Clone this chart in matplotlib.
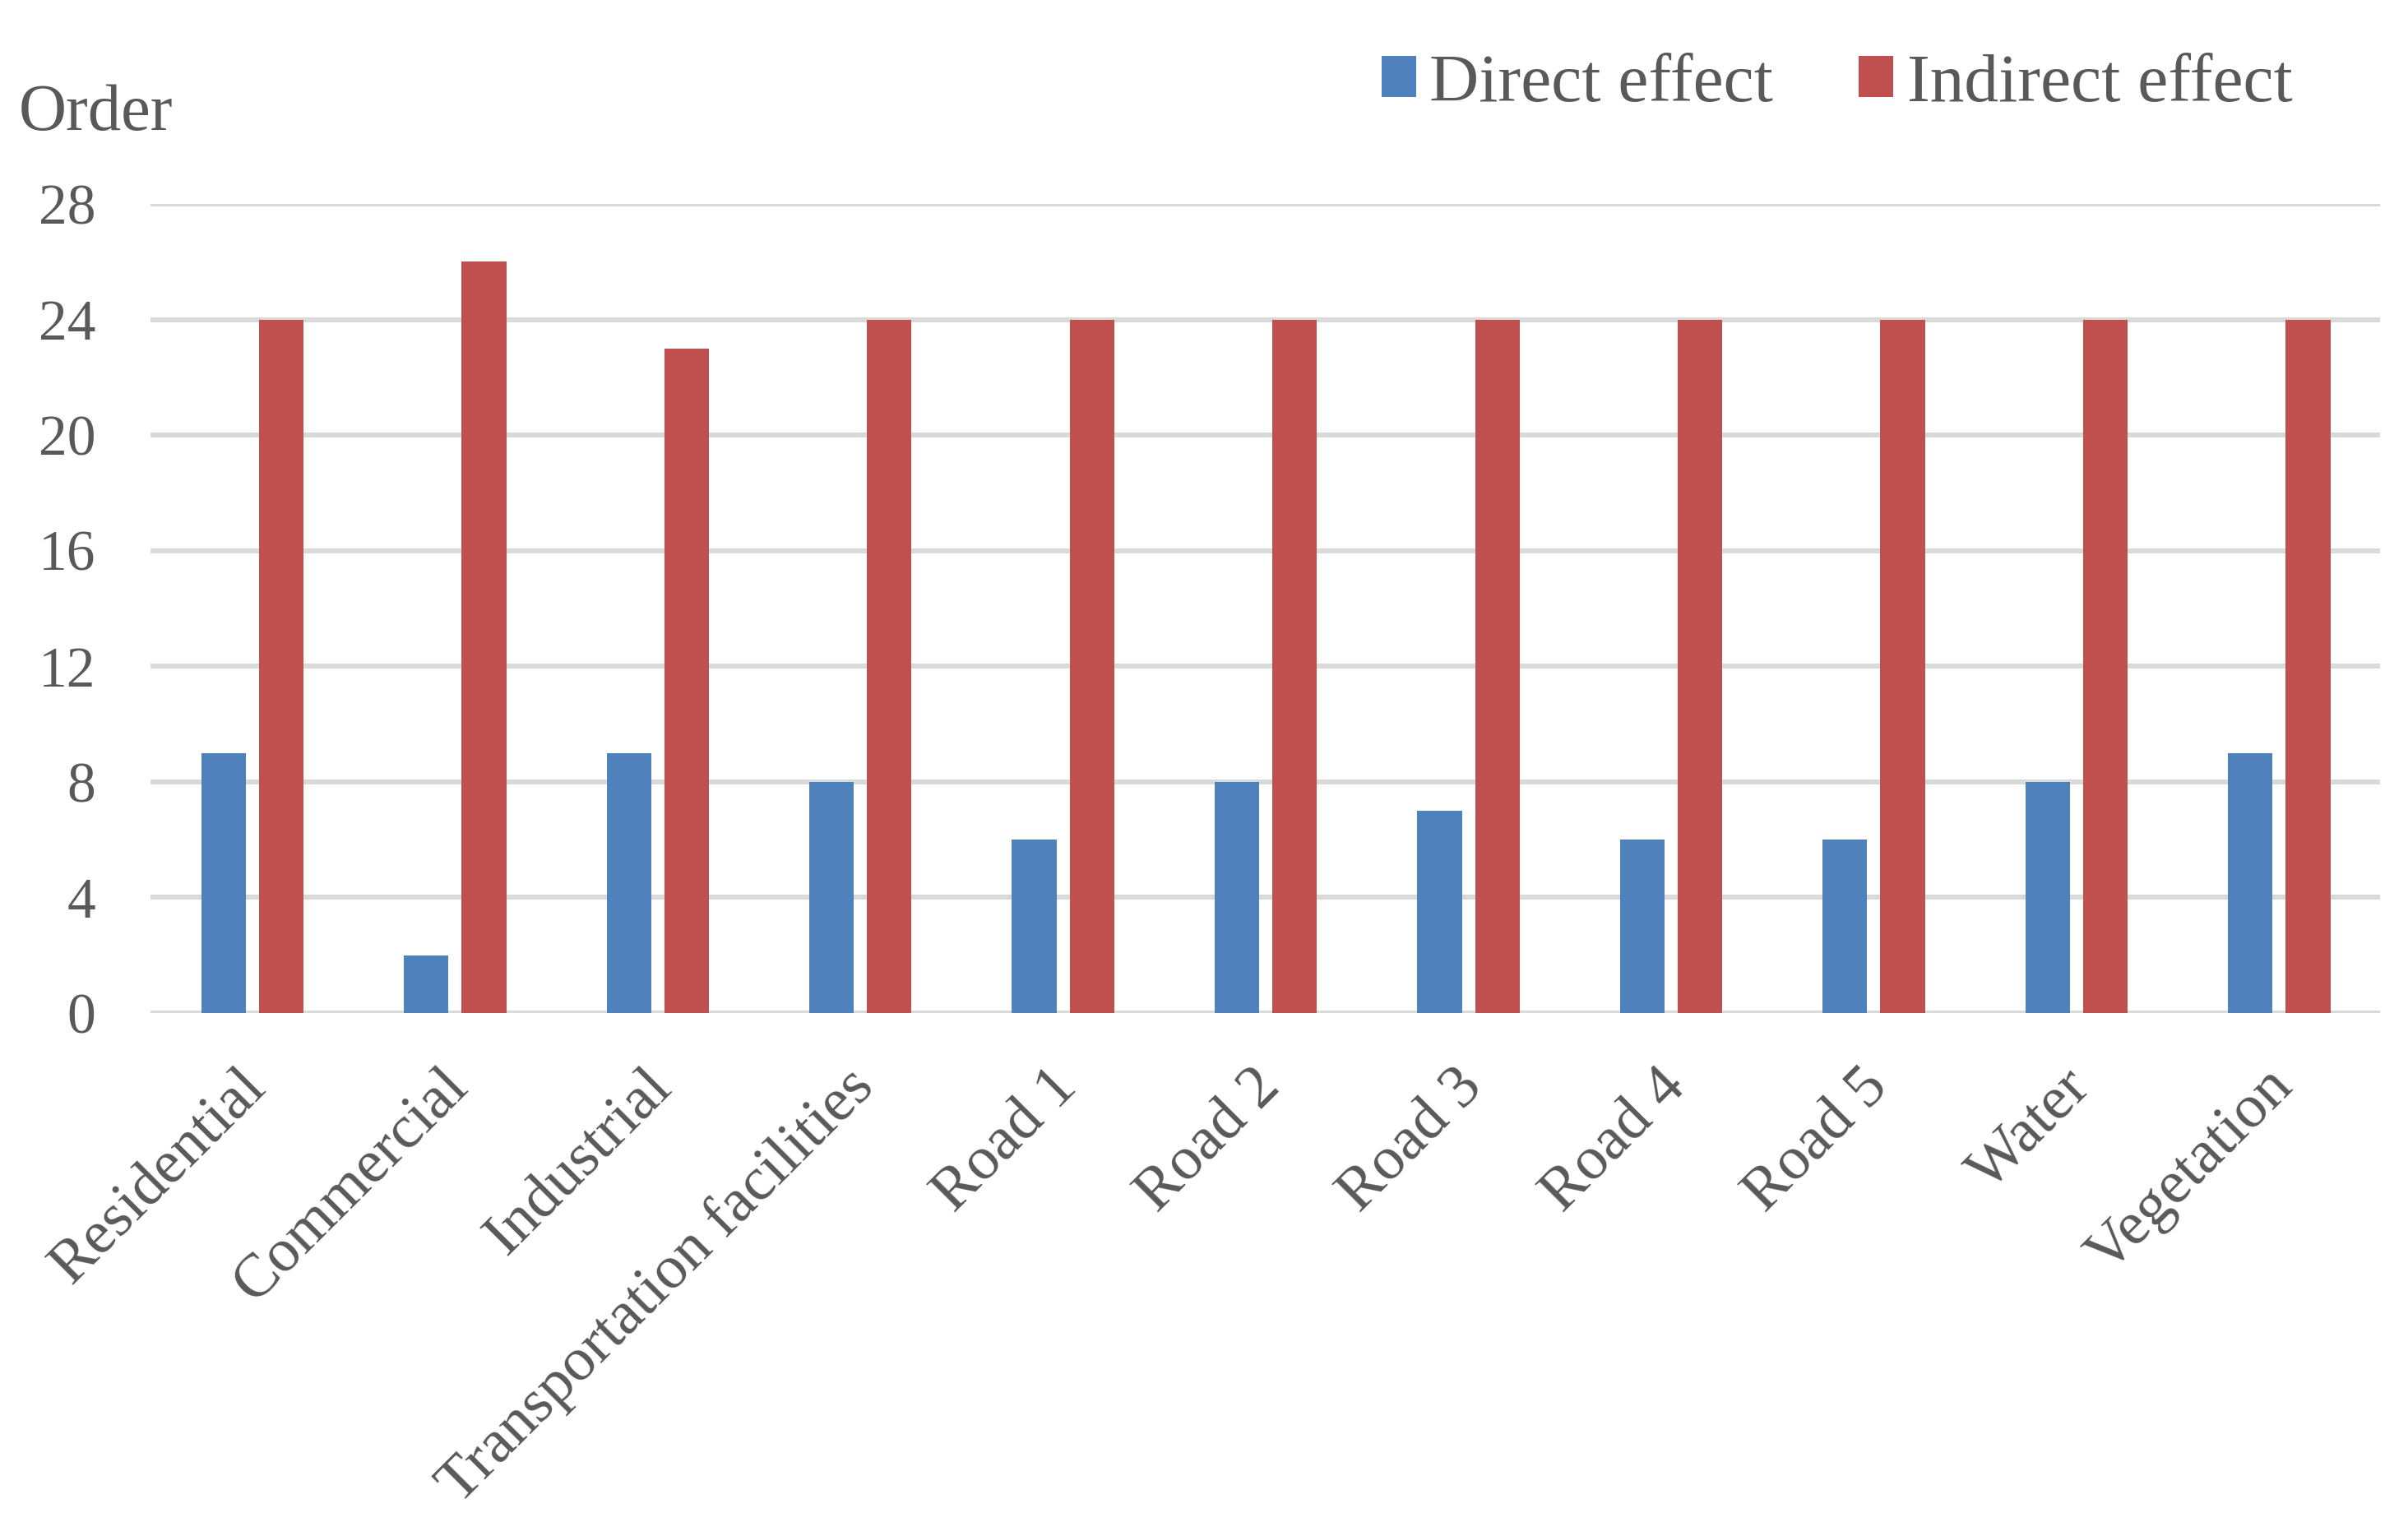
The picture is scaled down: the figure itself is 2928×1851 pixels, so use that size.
import matplotlib
matplotlib.use("Agg")
import matplotlib.pyplot as plt
import matplotlib.transforms as mtransforms
import numpy as np

categories = ["Residential", "Commercial", "Industrial", "Transportation facilities",
              "Road 1", "Road 2", "Road 3", "Road 4", "Road 5", "Water", "Vegetation"]
direct_effect = [9, 2, 9, 8, 6, 8, 7, 6, 6, 8, 9]
indirect_effect = [24, 26, 23, 24, 24, 24, 24, 24, 24, 24, 24]
y_ticks = [0, 4, 8, 12, 16, 20, 24, 28]

plt.rcParams['font.family'] = ['Liberation Serif', 'DejaVu Serif']
text_color = '#595959'
blue = '#4F81BD'
red = '#C0504D'

W, H = 2928, 1851
fig = plt.figure(figsize=(W / 100, H / 100), dpi=100)
ax = fig.add_axes([183 / W, 1 - 1232 / H, (2894 - 183) / W, (1232 - 248) / H])

x = np.arange(len(categories))
bw = 0.22
ax.bar(x - 0.14, direct_effect, width=bw, color=blue, label='Direct effect', zorder=3)
ax.bar(x + 0.145, indirect_effect, width=bw, color=red, label='Indirect effect', zorder=3)

ax.set_xlim(-0.5, len(categories) - 0.5)
ax.set_ylim(0, 28)
ax.set_yticks(y_ticks)
ax.set_yticklabels([str(v) for v in y_ticks])
ax.set_axisbelow(True)
ax.yaxis.grid(True, color='#d9d9d9', linewidth=4.3, zorder=0)
ax.xaxis.grid(False)
for s in ax.spines.values():
    s.set_visible(False)
ax.tick_params(axis='both', length=0, colors=text_color)
ax.tick_params(axis='y', labelsize=50, pad=48)
ax.set_xticks(x)
ax.set_xticklabels(categories, rotation=45, ha='right', va='top',
                   rotation_mode='anchor', fontsize=54, color=text_color)
ax.tick_params(axis='x', pad=40)
offset = mtransforms.ScaledTranslation(-0.17, 0, fig.dpi_scale_trans)
for lbl in ax.get_xticklabels():
    lbl.set_transform(lbl.get_transform() + offset)

fig.text(23 / W, 1 - 158 / H, 'Order', fontsize=58, color=text_color,
         ha='left', va='baseline')

leg = fig.legend(loc='center left', bbox_to_anchor=(1680 / W, 1 - 103 / H),
                 ncol=2, frameon=False, fontsize=60, handlelength=0.5,
                 handleheight=0.55, handletextpad=0.2, columnspacing=1.25,
                 borderpad=0, borderaxespad=0)
for t in leg.get_texts():
    t.set_color(text_color)

fig.savefig('out.png', dpi=100)
